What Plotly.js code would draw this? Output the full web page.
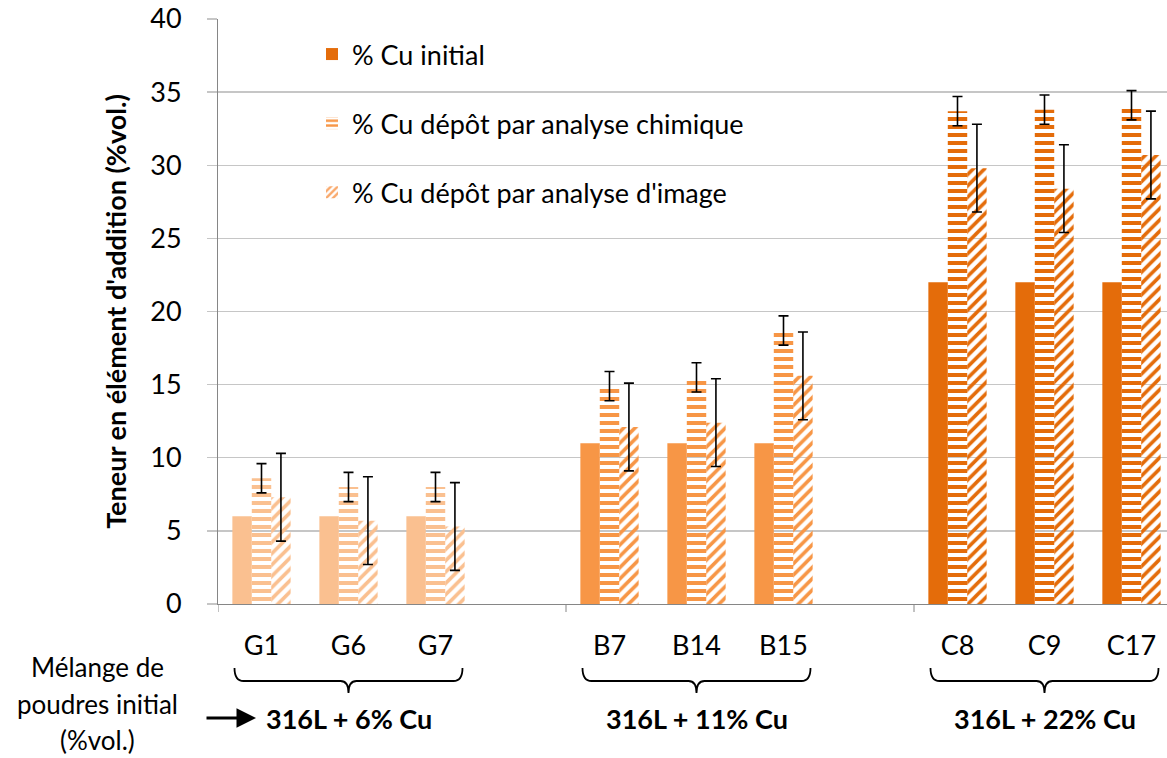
<!DOCTYPE html>
<html>
<head>
<meta charset="utf-8">
<script src="https://cdn.plot.ly/plotly-3.0.1.min.js"></script>
<style>
html,body{margin:0;padding:0;background:#ffffff;}
#chart{width:1167px;height:758px;}
</style>
</head>
<body>
<div id="chart"></div>
<script>
// ---------- data ----------
const groupNames = ['316L + 6% Cu', '316L + 11% Cu', '316L + 22% Cu'];
const groupSamples = [['G1', 'G6', 'G7'], ['B7', 'B14', 'B15'], ['C8', 'C9', 'C17']];
const groupColors = ['#FAC090', '#F79646', '#E46C0A'];
const samples = ['G1', 'G6', 'G7', 'B7', 'B14', 'B15', 'C8', 'C9', 'C17'];
const cuInitial = [6, 6, 6, 11, 11, 11, 22, 22, 22];
const cuChem = [8.6, 8.0, 8.0, 14.9, 15.5, 18.7, 33.7, 33.8, 34.1];
const cuChemErr = [1, 1, 1, 1, 1, 1, 1, 1, 1];
const cuImage = [7.3, 5.7, 5.3, 12.1, 12.4, 15.6, 29.8, 28.4, 30.7];
const cuImageErr = [3, 3, 3, 3, 3, 3, 3, 3, 3];
const seriesNames = ['% Cu initial', '% Cu dépôt par analyse chimique', "% Cu dépôt par analyse d'image"];
const legendColors = ['#E46C0A', '#F79646', '#F9A86A'];
const yTickValues = [0, 5, 10, 15, 20, 25, 30, 35, 40];
const sideLabel = ['Mélange de', 'poudres initial', '(%vol.)'];
const yTitle = "Teneur en élément d'addition (%vol.)";

// ---------- layout geometry ----------
const W = 1167, H = 758;
const M = {l: 218, r: 0, t: 19, b: 154};
const plotW = W - M.l - M.r;
const plotH = H - M.t - M.b;
const catW = 87; // px per category slot
const FONT = 'Lato, "Open Sans", "DejaVu Sans", sans-serif';
const FS = 27;

// category slots: each group followed by one empty slot
const slotOf = {};
let slot = 0;
const groupStart = [];
groupSamples.forEach((g) => {
  groupStart.push(slot);
  g.forEach((s) => { slotOf[s] = slot; slot += 1; });
  slot += 1;
});
const xPos = samples.map((s) => slotOf[s]);
const colorOf = {};
groupSamples.forEach((g, gi) => g.forEach((s) => { colorOf[s] = groupColors[gi]; }));
const barColors = samples.map((s) => colorOf[s]);

const py2paper = (py) => (H - M.b - py) / plotH;
const px2paper = (px) => (px - M.l) / plotW;

const traces = [
  {
    type: 'bar', x: xPos, y: cuInitial, name: seriesNames[0], showlegend: false,
    marker: {color: barColors, line: {width: 0}}
  },
  {
    type: 'bar', x: xPos, y: cuChem, name: seriesNames[1], showlegend: false,
    marker: {color: barColors, line: {width: 0},
      pattern: {shape: '-', fgcolor: barColors, bgcolor: '#ffffff', size: 8, solidity: 0.5, fillmode: 'replace'}},
    error_y: {type: 'data', array: cuChemErr, visible: true, color: '#000000', thickness: 1.6, width: 5}
  },
  {
    type: 'bar', x: xPos, y: cuImage, name: seriesNames[2], showlegend: false,
    marker: {color: barColors, line: {width: 0},
      pattern: {shape: '/', fgcolor: barColors, bgcolor: '#ffffff', size: 8, solidity: 0.45, fillmode: 'replace'}},
    error_y: {type: 'data', array: cuImageErr, visible: true, color: '#000000', thickness: 1.6, width: 5}
  }
];
// legend entries (hidden subplot so they do not shift the grouped bars)
const legendPatterns = [null, '-', '/'];
seriesNames.forEach((n, i) => {
  const mk = {color: legendColors[i], line: {width: 0}};
  if (legendPatterns[i]) mk.pattern = {shape: legendPatterns[i], fgcolor: legendColors[i], bgcolor: '#ffffff', size: 6, solidity: 0.5};
  traces.push({type: 'bar', x: [null], y: [null], name: n, xaxis: 'x2', yaxis: 'y2',
    legendgroup: 'g' + i, showlegend: true, marker: mk, hoverinfo: 'skip'});
});

// separators (axis tick marks) at the start of each group
const shapes = [];
groupStart.forEach((s) => {
  shapes.push({type: 'line', xref: 'x', yref: 'paper', x0: s - 0.5, x1: s - 0.5,
    y0: 0, y1: -8 / plotH, line: {color: '#868686', width: 1}});
});
// braces under each group
const rx = 9 / catW, half = 228 / 2 / catW, tipR = 8 / catW;
const yTop = py2paper(668), yMid = py2paper(681), yTip = py2paper(693);
const braceCenters = [];
groupSamples.forEach((g, gi) => {
  const xc = groupStart[gi] + (g.length - 1) / 2;
  braceCenters.push(xc);
  const x0 = xc - half, x1 = xc + half;
  const p = `M ${x0},${yTop} Q ${x0},${yMid} ${x0 + rx},${yMid} L ${xc - tipR},${yMid} ` +
    `Q ${xc},${yMid} ${xc},${yTip} Q ${xc},${yMid} ${xc + tipR},${yMid} L ${x1 - rx},${yMid} ` +
    `Q ${x1},${yMid} ${x1},${yTop}`;
  shapes.push({type: 'path', xref: 'x', yref: 'paper', path: p, line: {color: '#000000', width: 1.8}});
});

const annotations = [];
groupNames.forEach((n, gi) => {
  annotations.push({xref: 'x', yref: 'paper', x: braceCenters[gi], y: py2paper(718),
    text: '<b>' + n + '</b>', showarrow: false, xanchor: 'center', yanchor: 'middle',
    font: {family: FONT, size: 27, color: '#000000'}});
});
const sideY = [667, 704, 740];
sideLabel.forEach((t, i) => {
  annotations.push({xref: 'paper', yref: 'paper', x: px2paper(97), y: py2paper(sideY[i]),
    text: t, showarrow: false, xanchor: 'center', yanchor: 'middle', borderpad: 0,
    font: {family: FONT, size: 26, color: '#000000'}});
});
// arrow
annotations.push({xref: 'paper', yref: 'paper', x: px2paper(256), y: py2paper(718), text: '',
  showarrow: true, ax: -51, ay: 0, arrowhead: 2, arrowsize: 1.3, arrowwidth: 3, arrowcolor: '#000000'});

const layout = {
  width: W, height: H,
  margin: M,
  paper_bgcolor: '#ffffff', plot_bgcolor: '#ffffff',
  font: {family: FONT, size: FS, color: '#000000'},
  barmode: 'group', bargap: 0.33, bargroupgap: 0,
  showlegend: true,
  legend: {x: px2paper(312), y: py2paper(30), xanchor: 'left', yanchor: 'top',
    bgcolor: 'rgba(0,0,0,0)', borderwidth: 0, traceorder: 'grouped', tracegroupgap: 31,
    font: {family: FONT, size: FS, color: '#000000'}},
  xaxis: {
    type: 'linear', range: [-0.5, -0.5 + plotW / catW],
    tickmode: 'array', tickvals: xPos, ticktext: samples,
    ticks: '', showgrid: false, zeroline: false,
    showline: true, linecolor: '#868686', linewidth: 1,
    tickfont: {family: FONT, size: FS, color: '#000000'}, ticklabelstandoff: 18,
    fixedrange: true
  },
  yaxis: {
    range: [0, 40], tickmode: 'array', tickvals: yTickValues,
    showgrid: true, gridcolor: '#C6C6C6', gridwidth: 1.3,
    zeroline: false, showline: true, linecolor: '#868686', linewidth: 1,
    ticks: 'outside', ticklen: 10, tickcolor: '#C6C6C6', tickwidth: 1.3,
    tickfont: {family: FONT, size: FS, color: '#000000'}, ticklabelstandoff: 20,
    title: {text: '<b>' + yTitle + '</b>', font: {family: FONT, size: 27, color: '#000000'}, standoff: 15},
    fixedrange: true
  },
  xaxis2: {overlaying: 'x', visible: false, range: [0, 1]},
  yaxis2: {overlaying: 'y', visible: false, range: [0, 1]},
  shapes: shapes,
  annotations: annotations
};

Plotly.newPlot('chart', traces, layout, {displayModeBar: false, staticPlot: true});
</script>
</body>
</html>
